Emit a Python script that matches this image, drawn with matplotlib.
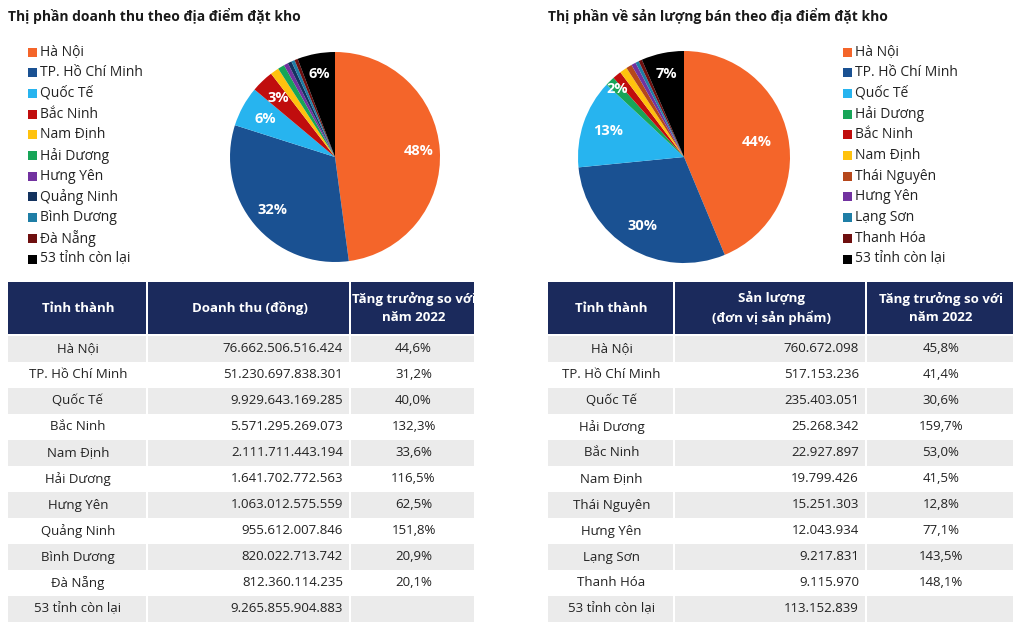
import matplotlib
matplotlib.use("Agg")
import matplotlib.pyplot as plt
import numpy as np
from matplotlib.patches import Rectangle

plt.rcParams["font.family"] = ["Open Sans", "DejaVu Sans"]

# ---- data -------------------------------------------------------------
rev_names = ["Hà Nội", "TP. Hồ Chí Minh", "Quốc Tế", "Bắc Ninh", "Nam Định",
             "Hải Dương", "Hưng Yên", "Quảng Ninh", "Bình Dương", "Đà Nẵng",
             "53 tỉnh còn lại"]
rev_values = [76662506516424, 51230697838301, 9929643169285, 5571295269073,
              2111711443194, 1641702772563, 1063012575559, 955612007846,
              820022713742, 812360114235, 9265855904883]
rev_text = ["76.662.506.516.424", "51.230.697.838.301", "9.929.643.169.285",
            "5.571.295.269.073", "2.111.711.443.194", "1.641.702.772.563",
            "1.063.012.575.559", "955.612.007.846", "820.022.713.742",
            "812.360.114.235", "9.265.855.904.883"]
rev_growth = ["44,6%", "31,2%", "40,0%", "132,3%", "33,6%", "116,5%",
              "62,5%", "151,8%", "20,9%", "20,1%", ""]
rev_pct_labels = ["48%", "32%", "6%", "3%", "", "", "", "", "", "", "6%"]

vol_names = ["Hà Nội", "TP. Hồ Chí Minh", "Quốc Tế", "Hải Dương", "Bắc Ninh",
             "Nam Định", "Thái Nguyên", "Hưng Yên", "Lạng Sơn", "Thanh Hóa",
             "53 tỉnh còn lại"]
vol_values = [760672098, 517153236, 235403051, 25268342, 22927897, 19799426,
              15251303, 12043934, 9217831, 9115970, 113152839]
vol_text = ["760.672.098", "517.153.236", "235.403.051", "25.268.342",
            "22.927.897", "19.799.426", "15.251.303", "12.043.934",
            "9.217.831", "9.115.970", "113.152.839"]
vol_growth = ["45,8%", "41,4%", "30,6%", "159,7%", "53,0%", "41,5%",
              "12,8%", "77,1%", "143,5%", "148,1%", ""]
vol_pct_labels = ["44%", "30%", "13%", "2%", "", "", "", "", "", "", "7%"]

COLORS = {
    "Hà Nội": "#f4652a", "TP. Hồ Chí Minh": "#1a5192", "Quốc Tế": "#27b4ef",
    "Bắc Ninh": "#c00d0d", "Nam Định": "#ffc20e", "Hải Dương": "#17a558",
    "Hưng Yên": "#7232a0", "Quảng Ninh": "#13325e", "Bình Dương": "#1f7ea6",
    "Đà Nẵng": "#6e0f0f", "Thái Nguyên": "#b5471b", "Lạng Sơn": "#1f7ea6",
    "Thanh Hóa": "#6e0f0f", "53 tỉnh còn lại": "#000000",
}
NAVY = "#1b2a5c"
GREY = "#ebebeb"
TXT = "#222222"

W, H = 1024, 628
fig = plt.figure(figsize=(W / 100, H / 100), dpi=100)
bg = fig.add_axes([0, 0, 1, 1])
bg.set_xlim(0, W)
bg.set_ylim(H, 0)
bg.axis("off")


def draw_pie(cx, cy, r, names, values, labels, lab_dist):
    ax = fig.add_axes([(cx - r) / W, 1 - (cy + r) / H, 2 * r / W, 2 * r / H])
    wedges, _ = ax.pie(values, colors=[COLORS[n] for n in names],
                       startangle=90, counterclock=False,
                       wedgeprops=dict(linewidth=0))
    for w, lab, d in zip(wedges, labels, lab_dist):
        if not lab:
            continue
        mid = np.deg2rad((w.theta1 + w.theta2) / 2)
        ax.text(d * np.cos(mid), d * np.sin(mid), lab, ha="center",
                va="center", color="white", fontsize=10.5, fontweight="bold")
    ax.set_xlim(-1, 1)
    ax.set_ylim(-1, 1)
    ax.set_aspect("equal")
    ax.axis("off")


def draw_legend(x, y0, names):
    for i, n in enumerate(names):
        y = y0 + i * 20.7
        bg.add_patch(Rectangle((x, y - 4.5), 9, 9, color=COLORS[n], lw=0))
        bg.text(x + 12, y, n, fontsize=10, color=TXT, va="center", ha="left")


def draw_table(x0, cols, header, names, values, growth):
    # cols: widths of the three columns
    top, hh, rh = 282, 52, 26
    xs = [x0, x0 + cols[0], x0 + cols[0] + cols[1]]
    for j, (xx, w) in enumerate(zip(xs, cols)):
        bg.add_patch(Rectangle((xx, top), w - 2, hh, color=NAVY, lw=0))
        bg.text(xx + w / 2, top + hh / 2, header[j], color="white",
                fontsize=9.5, fontweight="bold", ha="center", va="center",
                linespacing=1.5)
    for i in range(len(names)):
        y = top + hh + 2 + i * rh
        if i % 2 == 0:
            for xx, w in zip(xs, cols):
                bg.add_patch(Rectangle((xx, y), w - 2, rh, color=GREY, lw=0))
        yc = y + rh / 2
        bg.text(xs[0] + cols[0] / 2, yc, names[i], fontsize=9.5, color=TXT,
                ha="center", va="center")
        bg.text(xs[1] + cols[1] - 8, yc, values[i], fontsize=9.5, color=TXT,
                ha="right", va="center")
        bg.text(xs[2] + cols[2] / 2, yc, growth[i], fontsize=9.5, color=TXT,
                ha="center", va="center")


# titles
bg.text(8, 16, "Thị phần doanh thu theo địa điểm đặt kho", fontsize=10,
        fontweight="bold", color="#1a1a1a", va="center")
bg.text(548, 16, "Thị phần về sản lượng bán theo địa điểm đặt kho",
        fontsize=10, fontweight="bold", color="#1a1a1a", va="center")

draw_pie(335, 157, 105, rev_names, rev_values, rev_pct_labels,
         [0.8, 0.78, 0.76, 0.78, 0, 0, 0, 0, 0, 0, 0.8])
draw_pie(684, 157, 106, vol_names, vol_values, vol_pct_labels,
         [0.7, 0.76, 0.76, 0.9, 0, 0, 0, 0, 0, 0, 0.8])

draw_legend(28, 52, rev_names)
draw_legend(843, 52, vol_names)

draw_table(8, [140, 203, 125],
           ["Tỉnh thành", "Doanh thu (đồng)", "Tăng trưởng so với\nnăm 2022"],
           rev_names, rev_text, rev_growth)
draw_table(548, [127, 192, 148],
           ["Tỉnh thành", "Sản lượng\n(đơn vị sản phẩm)",
            "Tăng trưởng so với\nnăm 2022"],
           vol_names, vol_text, vol_growth)

fig.savefig("out.png", dpi=100)
